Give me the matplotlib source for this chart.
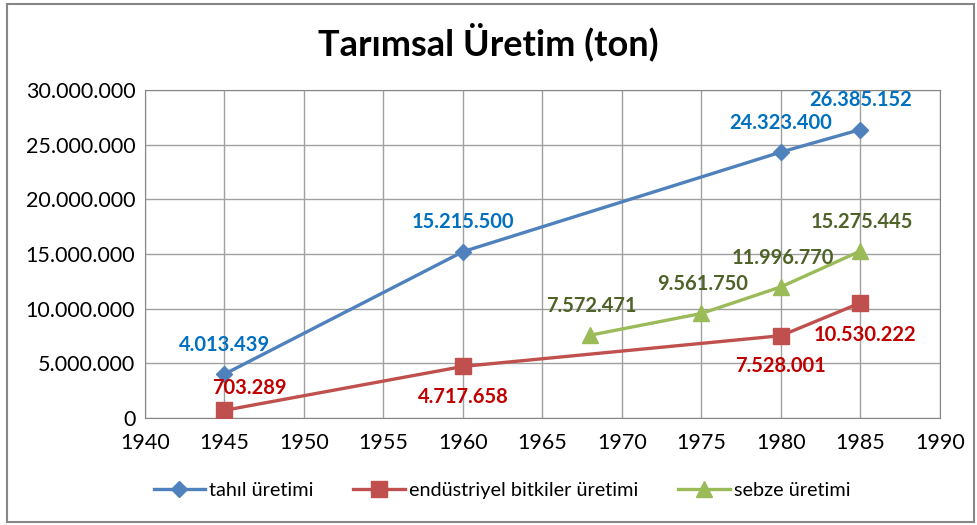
import matplotlib.pyplot as plt
from matplotlib.patches import Rectangle
from matplotlib.ticker import FuncFormatter

plt.rcParams['font.family'] = ['Lato', 'DejaVu Sans']

# veriler
tahil_yil = [1945, 1960, 1980, 1985]
tahil = [4013439, 15215500, 24323400, 26385152]

endustri_yil = [1945, 1960, 1980, 1985]
endustri = [703289, 4717658, 7528001, 10530222]

sebze_yil = [1968, 1975, 1980, 1985]
sebze = [7572471, 9561750, 11996770, 15275445]

def nokta(v):
    return f"{int(v):,}".replace(",", ".")

fig = plt.figure(figsize=(9.77, 5.25), dpi=100)
ax = fig.add_axes([145 / 977, 1 - 418 / 525, 795 / 977, 328 / 525])

ax.plot(tahil_yil, tahil, color='#4F81BD', lw=2.4, marker='D', ms=8,
        label='tahıl üretimi', zorder=3)
ax.plot(endustri_yil, endustri, color='#C0504D', lw=2.4, marker='s', ms=11,
        label='endüstriyel bitkiler üretimi', zorder=3)
ax.plot(sebze_yil, sebze, color='#9BBB59', lw=2.4, marker='^', ms=11,
        label='sebze üretimi', zorder=3)

# veri etiketleri
for x, y in zip(tahil_yil, tahil):
    ax.annotate(nokta(y), (x, y), xytext=(0, 21), textcoords='offset points',
                ha='center', va='center', color='#0070C0', fontsize=14.5, fontweight='bold')

ofs = [(18, 16), (0, -22), (0, -22), (3, -23)]
for (x, y), o in zip(zip(endustri_yil, endustri), ofs):
    ax.annotate(nokta(y), (x, y), xytext=o, textcoords='offset points',
                ha='center', va='center', color='#C00000', fontsize=14.5, fontweight='bold')

for x, y in zip(sebze_yil, sebze):
    ax.annotate(nokta(y), (x, y), xytext=(1, 21), textcoords='offset points',
                ha='center', va='center', color='#4F6228', fontsize=14.5, fontweight='bold')

ax.set_xlim(1940, 1990)
ax.set_ylim(0, 30000000)
ax.set_xticks(range(1940, 1991, 5))
ax.set_yticks(range(0, 30000001, 5000000))
ax.yaxis.set_major_formatter(FuncFormatter(lambda v, p: nokta(v)))
ax.tick_params(length=0, labelsize=15.5)
ax.tick_params(axis='x', pad=11)
ax.tick_params(axis='y', pad=7)
ax.grid(True, color='#A0A0A0', lw=1)
for s in ax.spines.values():
    s.set_color('#868686')

fig.text(0.5, 1 - 42 / 525, 'Tarımsal Üretim (ton)', ha='center', va='center',
         fontsize=26, fontweight='bold')

ax.legend(loc='center', bbox_to_anchor=(0.449, -0.22), ncol=3, frameon=False,
          fontsize=14.3, handlelength=2.6, columnspacing=2.0, handletextpad=0.2)

# dış çerçeve
fig.patches.append(Rectangle((7 / 977, 3 / 525), 967 / 977, 518 / 525,
                             transform=fig.transFigure, fill=False,
                             edgecolor='#868686', lw=1.5))

plt.savefig('out.png', dpi=100)
